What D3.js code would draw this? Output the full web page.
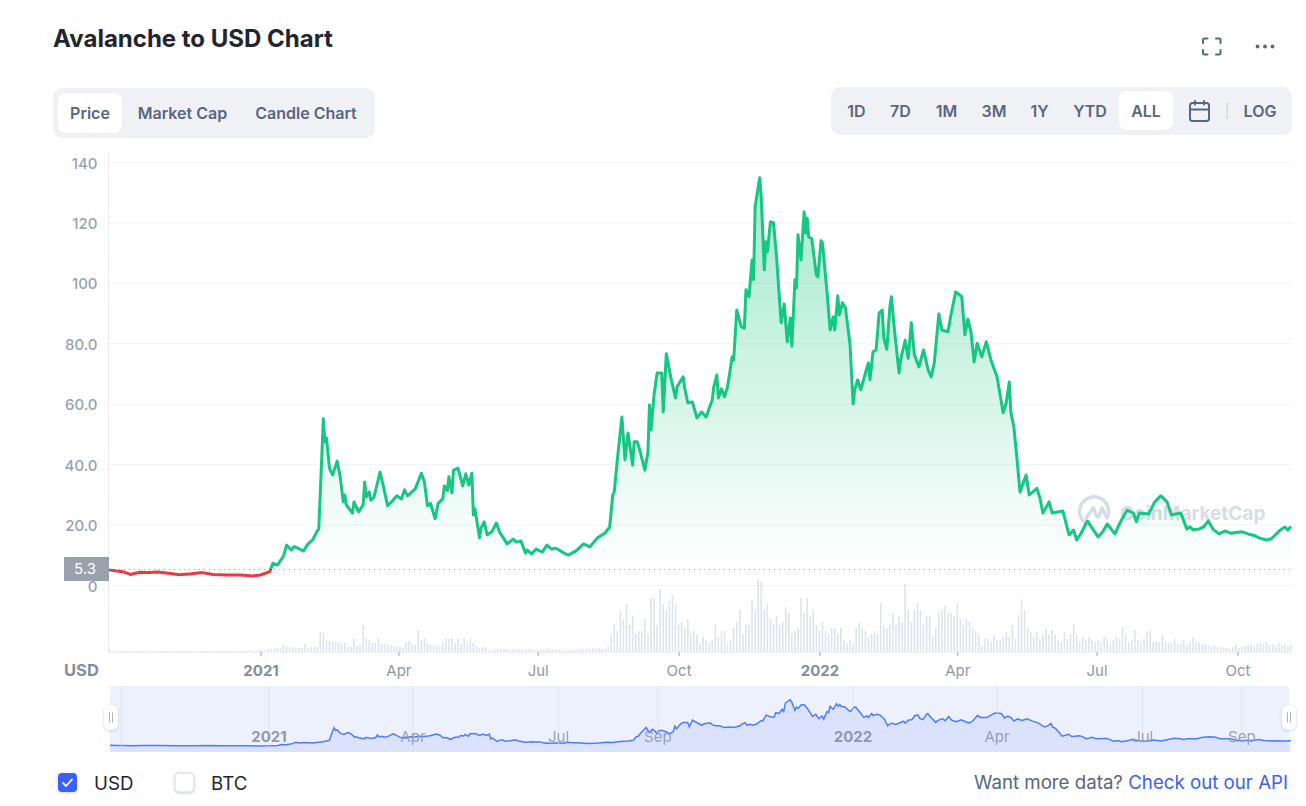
<!DOCTYPE html>
<html>
<head>
<meta charset="utf-8">
<title>Avalanche to USD Chart</title>
<script src="https://cdn.jsdelivr.net/npm/d3@7/dist/d3.min.js"></script>
<style>
  body { margin: 0; background: #fff; }
  svg { display: block; font-family: Inter, "Noto Sans", sans-serif; }
  .domain { display: none; }
</style>
</head>
<body>
<div id="selector"></div>
<script>
const firstDate = new Date(2020, 8, 24);
const basePrice = 5.3;

// days since firstDate, and the price that day
const priceDay = [
  0,5,9,14,20,26,32,40,46,54,
  61,68,77,86,94,99,105,107,110,114,
  116,119,121,127,130,133,136,137,138,140,
  141,142,144,146,149,151,153,154,155,159,
  160,163,166,167,168,170,171,173,175,177,
  179,182,185,188,191,193,195,200,204,206,
  208,210,213,215,218,219,221,222,224,225,
  228,230,231,233,235,237,238,239,242,243,
  245,247,250,253,255,257,260,264,266,269,
  272,273,276,279,283,286,289,292,296,300,
  305,310,314,319,324,327,329,330,332,335,
  337,339,342,343,345,347,350,352,353,354,
  356,358,361,362,364,367,370,371,375,376,
  378,381,384,387,390,394,395,397,398,400,
  402,404,407,408,410,413,415,416,418,420,
  421,422,425,426,428,429,430,432,434,436,
  439,441,443,445,446,448,449,450,452,454,
  455,456,457,459,462,463,465,466,469,471,
  473,474,476,477,479,481,484,486,487,489,
  491,495,496,497,499,501,503,505,506,508,
  510,511,513,516,517,520,522,524,526,529,
  532,535,537,539,542,544,548,550,553,557,
  559,561,563,565,567,570,573,576,580,584,
  586,588,589,591,593,595,599,601,606,608,
  610,614,616,623,627,630,632,635,639,642,
  646,649,652,657,659,662,665,669,671,673,
  679,683,687,691,694,700,704,706,708,712,715,718,721,
  725,729,733,736,740,744,748,751,756,759,761,765,768,770,772
];
const priceValue = [
  5.0,4.6,4.4,3.5,4.2,4.1,4.3,3.8,3.4,3.7,
  4.1,3.5,3.3,3.3,3.0,3.3,4.4,7.2,6.6,9.6,
  13.2,11.6,12.7,11.3,13.6,14.9,17.9,18.5,30.5,55,
  47.4,48.7,38.7,36.4,41,35.8,27.5,29.8,26.5,23.8,
  27.5,24.2,26.5,34.1,29.1,30.8,28.1,29,33.1,37.4,
  33.1,26.2,27.8,29.5,28.5,31.5,29.5,31.8,37,34.1,
  26.2,27,21.9,27,28.5,32.8,31.2,35.8,30.5,38,
  38.7,34.8,32.8,36.8,33.1,37,23.2,25.2,15.6,18.9,
  20.9,16.6,17.6,20.5,17.6,16,13.6,15.2,14.2,14.6,
  10.6,11.6,10.3,11.9,10.9,13.2,11.9,12.2,10.9,9.9,
  11.3,13.6,12.6,15.6,17.2,19.2,29.8,30.8,41.4,55.6,
  41.4,50.3,39.7,47.4,47.4,44,38,44,59.6,51.3,
  63,70.2,70.2,57.3,76.5,68.5,61.9,65.6,68.9,65.2,
  60.3,60.6,55.3,57.3,55.6,61.3,65.6,69.5,61.9,64.9,
  62.3,65.6,75.5,74.5,91,85.4,85,97.7,95.4,107.6,
  101,125.2,134.8,128.5,104.3,113.6,110.3,120.2,119.9,108.6,
  86.8,93,80.5,88.4,79,101,98.3,115.9,107.6,123.5,
  116.5,121.5,115.2,114.6,102.6,102,113.9,113.2,96.7,84.4,
  88.7,84.4,95.7,89.4,93.4,91.7,79.5,59.9,64.6,67.9,
  64.6,71.9,73.5,67.9,77.2,77.8,90,91,81.8,78,
  92,95.4,84.4,70.2,74.5,81,75,86.8,76.2,72.2,
  77.8,71.2,68.9,73.5,89.7,84.4,83.8,89.7,97,95.4,
  82.8,88,83.8,73.8,80,75.5,80.5,74.5,68.9,57,
  60.3,67.2,57.3,52.3,42,30.8,36.4,29.8,32,28.8,
  23.8,27.5,23.8,24.5,16.6,18.2,14.9,17.2,21.2,18.9,
  15.9,17.6,20.2,16.9,19.2,22.2,24.8,23.8,20.9,23.8,
  23.5,27.5,29.5,27.5,23.2,23.8,18.5,19.2,18.3,18.5,19.3,21.2,18.5,
  16.9,17.9,17.1,17.4,17.6,16.9,16.4,15.6,14.9,15.3,16.2,18.2,19.2,18.2,19.4
];

// traded volume in $bn, one bar every second day
const volumeStepDays = 2;
const volumeValue = [
  .3,.1,.1,.1,.1,.1,.1,.1,.1,.1,
  .1,.1,.1,.1,.1,.1,.1,.1,.1,.1,
  .1,.1,.1,.1,.1,.1,.1,.1,.1,.1,
  .1,.1,.1,.1,.1,.1,.1,.1,.1,.1,
  .1,.1,.1,.1,.1,.1,.2,.1,.1,.2,
  .2,.2,.3,.3,.3,.4,.4,.7,.6,.5,
  .5,.4,.4,.4,.8,.4,.5,.5,.5,2.0,
  1.9,1.1,1.1,1.0,1.0,1.0,.8,.9,.5,.5,
  1.4,.6,.7,2.7,1.4,1.2,.9,1.0,1.4,.8,
  .8,.7,.6,.5,.5,.5,.4,1.0,1.1,.8,
  .7,2.2,1.2,1.4,.9,.7,.6,.7,.6,1.0,
  1.4,1.3,1.4,.9,1.3,.8,1.4,1.0,1.3,.9,
  .6,.4,.5,.4,.2,.2,.2,.3,.3,.3,
  .3,.2,.3,.3,.3,.3,.2,.3,.3,.2,
  .2,.2,.2,.3,.3,.3,.2,.2,.2,.2,
  .2,.2,.2,.3,.3,.3,.3,.3,.3,.3,
  .4,.3,.3,
  .6,1.8,2.7,2.1,4.2,3.3,4.8,2.7,3.6,
  1.8,2.1,2.1,3.3,1.8,5.4,5.4,2.7,6.3,
  4.8,4.2,5.1,5.7,4.8,2.7,3.0,2.4,3.3,
  1.8,2.1,1.8,.9,1.5,1.2,.9,1.2,2.7,
  1.5,2.1,2.1,.9,1.2,2.4,3.0,4.2,1.8,
  2.7,2.7,5.1,4.2,7.3,7.0,4.2,4.8,3.3,
  2.7,3.6,2.7,3.0,4.5,3.9,1.8,2.1,2.4,
  5.4,3.9,5.4,3.6,4.2,2.7,2.1,3.0,2.1,
  1.8,2.4,2.4,1.8,2.4,1.2,.9,1.2,.9,
  2.4,3.0,2.4,2.1,1.5,1.8,2.1,1.8,4.9,
  2.7,2.4,2.7,3.9,2.7,3.6,3.0,6.8,4.2,
  3.0,4.2,4.9,4.2,2.7,3.6,3.6,1.5,2.4,
  3.9,4.2,4.6,3.9,3.9,3.6,4.8,3.3,2.7,
  3.3,3.0,2.4,2.1,1.8,.6,1.3,1.3,1.0,1.7,
  1.2,
  1.2,1.5,2.0,1.5,2.7,1.3,3.7,5.3,4.2,2.5,
  2.0,1.5,2.0,1.3,1.7,2.3,1.7,2.2,1.7,1.2,
  1.0,2.0,1.3,1.8,2.8,1.7,1.0,1.5,1.2,1.5,
  1.2,1.0,1.2,1.0,1.5,1.3,.8,1.2,1.5,1.3,
  2.5,1.7,1.0,1.2,2.2,1.2,1.0,1.3,2.0,2.2,
  1.0,1.0,1.0,1.7,1.0,.9,.8,1.3,.8,.9,
  1.2,.8,1.0,1.5,1.0,1.0,.7,.8,.7,.5,
  .6,.5,.5,.4,.4,.3,.5,.8,.4,.5,
  .6,.7,.8,.6,.9,1.0,.8,1.0,.7,.8,
  .6,.9,.7,.8,.6,.7
];

const priceTicks = [0, 20, 40, 60, 80, 100, 120, 140];
const priceTickLabels = ['0', '20.0', '40.0', '60.0', '80.0', '100', '120', '140'];
const timeTicks = ['2021-01-01', '2021-04-01', '2021-07-01', '2021-10-01', '2022-01-01', '2022-04-01', '2022-07-01', '2022-10-01'];
const timeTickLabels = ['2021', 'Apr', 'Jul', 'Oct', '2022', 'Apr', 'Jul', 'Oct'];
const navTicks = ['2020-10-01', '2021-01-01', '2021-04-01', '2021-07-01', '2021-09-01', '2022-01-01', '2022-04-01', '2022-07-01', '2022-09-01'];
const navTickLabels = ['', '2021', 'Apr', 'Jul', 'Sep', '2022', 'Apr', 'Jul', 'Sep'];
const viewTabs = ['Price', 'Market Cap', 'Candle Chart'];
const rangeTabs = ['1D', '7D', '1M', '3M', '1Y', 'YTD', 'ALL'];

const w = 1306;
const h = 806;
const parseDay = d3.timeParse('%Y-%m-%d');
const dayToDate = d => d3.timeDay.offset(firstDate, d);
const price = priceDay.map((d, i) => ({ date: dayToDate(d), value: priceValue[i] }));
const volume = volumeValue.map((v, i) => ({ date: dayToDate(i * volumeStepDays), value: v }));

const svg = d3.select('#selector').append('svg').attr('width', w).attr('height', h);
const defs = svg.append('defs');

//scales
const xScale = d3.scaleTime().domain([firstDate, dayToDate(772)]).range([109, 1291]);
const yScale = d3.scaleLinear().domain([0, 140]).range([585, 162]);
const volScale = d3.scaleLinear().domain([0, 7.4]).range([652, 578]);
const navX = d3.scaleTime().domain([firstDate, dayToDate(738)]).range([110, 1291]);
const navY = d3.scaleLinear().domain([0, 134]).range([747, 700]);

const baseY = yScale(basePrice);

const grad = defs.append('linearGradient').attr('id', 'areaFill')
  .attr('gradientUnits', 'userSpaceOnUse')
  .attr('x1', 0).attr('x2', 0).attr('y1', yScale(135)).attr('y2', baseY);
grad.append('stop').attr('offset', 0).attr('stop-color', '#16c784').attr('stop-opacity', 0.4);
grad.append('stop').attr('offset', 1).attr('stop-color', '#16c784').attr('stop-opacity', 0);

defs.append('clipPath').attr('id', 'aboveBase').append('rect')
  .attr('x', 100).attr('y', 150).attr('width', 1200).attr('height', baseY - 150);
defs.append('clipPath').attr('id', 'belowBase').append('rect')
  .attr('x', 100).attr('y', baseY).attr('width', 1200).attr('height', 30);
defs.append('clipPath').attr('id', 'navClip').append('rect')
  .attr('x', 110).attr('y', 686).attr('width', 1181).attr('height', 66);
defs.append('filter').attr('id', 'softShadow').attr('x', '-40%').attr('y', '-40%').attr('width', '180%').attr('height', '180%')
  .append('feDropShadow').attr('dx', 0).attr('dy', 1).attr('stdDeviation', 1.6).attr('flood-color', '#8f9bb8').attr('flood-opacity', 0.45);

//header
svg.append('text').attr('x', 53).attr('y', 47)
  .attr('font-size', 24).attr('font-weight', 700).attr('fill', '#222531')
  .text('Avalanche to USD Chart');

// fullscreen icon
svg.append('path').attr('fill', 'none').attr('stroke', '#58667e').attr('stroke-width', 2).attr('stroke-linecap', 'round')
  .attr('d', 'M1203 43v-3q0-1.500 1.500-1.500h3M1216 38.500h3q1.500 0 1.500 1.500v3M1220.500 50v3q0 1.500-1.500 1.500h-3M1207.500 54.500h-3q-1.500 0-1.500-1.500v-3');
svg.append('g').attr('fill', '#58667e').selectAll('circle').data([1257.500, 1265, 1272.500]).enter()
  .append('circle').attr('cx', d => d).attr('cy', 46.500).attr('r', 1.900);

// tabs on the left
svg.append('rect').attr('x', 53).attr('y', 88).attr('width', 322).attr('height', 50).attr('rx', 9).attr('fill', '#eff1f5');
svg.append('rect').attr('x', 58).attr('y', 93).attr('width', 64).attr('height', 40).attr('rx', 8).attr('fill', '#fff');
const viewTabX = [90, 182.500, 306];
svg.append('g').selectAll('text').data(viewTabs).enter().append('text')
  .attr('x', (d, i) => viewTabX[i]).attr('y', 113).attr('dy', '0.35em').attr('text-anchor', 'middle')
  .attr('font-size', 16).attr('font-weight', 600).attr('fill', '#58667e').text(d => d);

// range tabs on the right
svg.append('rect').attr('x', 831).attr('y', 87).attr('width', 461).attr('height', 48).attr('rx', 9).attr('fill', '#eff1f5');
svg.append('rect').attr('x', 1119).attr('y', 91).attr('width', 54).attr('height', 39).attr('rx', 8).attr('fill', '#fff');
const rangeTabX = [856.500, 900.500, 946.500, 994, 1039.500, 1090, 1146];
svg.append('g').selectAll('text').data(rangeTabs).enter().append('text')
  .attr('x', (d, i) => rangeTabX[i]).attr('y', 111).attr('dy', '0.35em').attr('text-anchor', 'middle')
  .attr('font-size', 16).attr('font-weight', 600).attr('fill', '#58667e').text(d => d);
svg.append('text').attr('x', 1260).attr('y', 111).attr('dy', '0.35em').attr('text-anchor', 'middle')
  .attr('font-size', 16).attr('font-weight', 600).attr('fill', '#58667e').text('LOG');
svg.append('rect').attr('x', 1226.500).attr('y', 102).attr('width', 1.500).attr('height', 17).attr('fill', '#cfd6e4');
const cal = svg.append('g').attr('fill', 'none').attr('stroke', '#58667e').attr('stroke-width', 2).attr('stroke-linecap', 'round');
cal.append('rect').attr('x', 1190).attr('y', 103).attr('width', 19).attr('height', 18).attr('rx', 2.500);
cal.append('path').attr('d', 'M1190 109.500h19M1195 101v3.500M1204 101v3.500');

//y axis + grid
const yAxis = d3.axisLeft(yScale).tickValues(priceTicks)
  .tickFormat((d, i) => priceTickLabels[i]).tickSize(0).tickPadding(11);
const yG = svg.append('g').attr('transform', 'translate(108.500,0)').call(yAxis);
yG.selectAll('text').attr('font-size', 15).attr('font-weight', 500).attr('fill', '#98a1b3').attr('font-family', 'Inter').attr('dy', '0.4em');
yG.selectAll('.tick').append('line').attr('x1', 0).attr('x2', 1291 - 108.500).attr('stroke', '#f2f3f6');
svg.append('line').attr('x1', 108.500).attr('x2', 108.500).attr('y1', 152).attr('y2', 652).attr('stroke', '#e8ebf2');

// watermark
const mark = svg.append('g').attr('fill', 'none').attr('stroke', '#d8dcea').attr('stroke-width', 3.500);
mark.append('path').attr('stroke-linecap', 'round').attr('stroke-linejoin', 'round')
  .attr('d', 'M1087 524A14.500 14.500 0 1 1 1107 518M1086 518l7.500-10 3 8q1 2 2.500 0l3-8 4 8');
svg.append('text').attr('x', 1120).attr('y', 520).attr('font-size', 19).attr('font-weight', 700)
  .attr('fill', '#d8dcea').text('CoinMarketCap');

//volume
svg.append('g').selectAll('rect').data(volume).enter().append('rect')
  .attr('x', d => xScale(d.date) - 0.800)
  .attr('y', d => volScale(d.value))
  .attr('width', 1.600)
  .attr('height', d => volScale(0) - volScale(d.value))
  .attr('fill', '#dfe3ee');
svg.append('line').attr('x1', 108.500).attr('x2', 1291).attr('y1', 652.500).attr('y2', 652.500).attr('stroke', '#eef0f5');

//price area + line
const area = d3.area().x(d => xScale(d.date)).y0(baseY).y1(d => yScale(d.value));
const line = d3.line().x(d => xScale(d.date)).y(d => yScale(d.value));
svg.append('path').datum(price).attr('d', area).attr('fill', 'url(#areaFill)').attr('clip-path', 'url(#aboveBase)');
svg.append('line').attr('x1', 109).attr('x2', 1291).attr('y1', baseY + 0.500).attr('y2', baseY + 0.500)
  .attr('stroke', '#9aa0ae').attr('stroke-dasharray', '1 4');
svg.append('path').datum(price).attr('d', line).attr('fill', 'none').attr('stroke', '#16c784')
  .attr('stroke-width', 3).attr('stroke-linejoin', 'round').attr('clip-path', 'url(#aboveBase)');
svg.append('path').datum(price).attr('d', line).attr('fill', 'none').attr('stroke', '#ea3943')
  .attr('stroke-width', 3).attr('stroke-linejoin', 'round').attr('clip-path', 'url(#belowBase)');

// current base price tag
svg.append('rect').attr('x', 64).attr('y', 557).attr('width', 45).attr('height', 24).attr('fill', '#9aa0ae');
svg.append('text').attr('x', 85).attr('y', 569).attr('dy', '0.35em').attr('text-anchor', 'middle')
  .attr('font-size', 15).attr('fill', '#fff').text(basePrice);

//x axis
const xAxis = d3.axisBottom(xScale).tickValues(timeTicks.map(parseDay))
  .tickFormat((d, i) => timeTickLabels[i]).tickSize(4).tickPadding(9);
const xG = svg.append('g').attr('transform', 'translate(0,652)').call(xAxis);
xG.selectAll('line').attr('stroke', '#9aa3b5');
xG.selectAll('text').attr('font-size', 15).attr('font-family', 'Inter')
  .attr('font-weight', (d, i) => /^20/.test(timeTickLabels[i]) ? 700 : 400)
  .attr('fill', (d, i) => /^20/.test(timeTickLabels[i]) ? '#858ca2' : '#8f97a9');
svg.append('text').attr('x', 64).attr('y', 670).attr('dy', '0.35em').attr('font-size', 16.500).attr('font-weight', 700)
  .attr('fill', '#858ca2').text('USD');

//navigator
svg.append('rect').attr('x', 110).attr('y', 686).attr('width', 1179).attr('height', 66).attr('fill', '#edf1fd');
const navAxis = d3.axisBottom(navX).tickValues(navTicks.map(parseDay))
  .tickFormat((d, i) => navTickLabels[i]).tickSize(66).tickPadding(-21);
const navG = svg.append('g').attr('transform', 'translate(0,686)').call(navAxis);
navG.selectAll('line').attr('stroke', '#dadff0');
const navArea = d3.area().x(d => navX(d.date)).y0(752).y1(d => navY(d.value));
const navLine = d3.line().x(d => navX(d.date)).y(d => navY(d.value));
svg.append('path').datum(price).attr('d', navArea).attr('fill', '#3861fb').attr('fill-opacity', 0.1).attr('clip-path', 'url(#navClip)');
svg.append('path').datum(price).attr('d', navLine).attr('fill', 'none').attr('stroke', '#4f7cff').attr('stroke-width', 1.500).attr('clip-path', 'url(#navClip)');
navG.raise();
navG.selectAll('line').attr('stroke-opacity', 0.7);
navG.selectAll('text').attr('font-size', 15).attr('font-family', 'Inter')
  .attr('font-weight', (d, i) => /^20/.test(navTickLabels[i]) ? 700 : 400)
  .attr('fill', (d, i) => /^20/.test(navTickLabels[i]) ? '#858ca2' : '#8f97a9')
  .attr('fill-opacity', 0.9);

// navigator handles
[104, 1282].forEach(x => {
  svg.append('rect').attr('x', x).attr('y', 705).attr('width', 14).attr('height', 25).attr('rx', 6)
    .attr('fill', '#fff').attr('filter', 'url(#softShadow)');
  svg.append('path').attr('d', `M${x + 5.500} 712.500v10M${x + 8.500} 712.500v10`).attr('stroke', '#aab2c4').attr('stroke-width', 1);
});

//legend
svg.append('rect').attr('x', 58).attr('y', 773).attr('width', 19).attr('height', 19).attr('rx', 4)
  .attr('fill', '#3861fb').attr('filter', 'url(#softShadow)');
svg.append('path').attr('d', 'M62.500 782.500l3.500 3.500 6.500-7').attr('fill', 'none').attr('stroke', '#fff').attr('stroke-width', 1.800);
svg.append('text').attr('x', 94).attr('y', 783).attr('dy', '0.35em').attr('font-size', 18.700).attr('fill', '#222531').text('USD');
svg.append('rect').attr('x', 175).attr('y', 773).attr('width', 19).attr('height', 19).attr('rx', 4)
  .attr('fill', '#fff').attr('stroke', '#d5dbe8').attr('filter', 'url(#softShadow)');
svg.append('text').attr('x', 211).attr('y', 783).attr('dy', '0.35em').attr('font-size', 18.700).attr('fill', '#222531').text('BTC');

const apiText = svg.append('text').attr('x', 1288).attr('y', 782).attr('dy', '0.35em')
  .attr('text-anchor', 'end').attr('font-size', 18.700);
apiText.append('tspan').attr('fill', '#58667e').text('Want more data? ');
apiText.append('tspan').attr('fill', '#3861fb').text('Check out our API');
</script>
</body>
</html>
